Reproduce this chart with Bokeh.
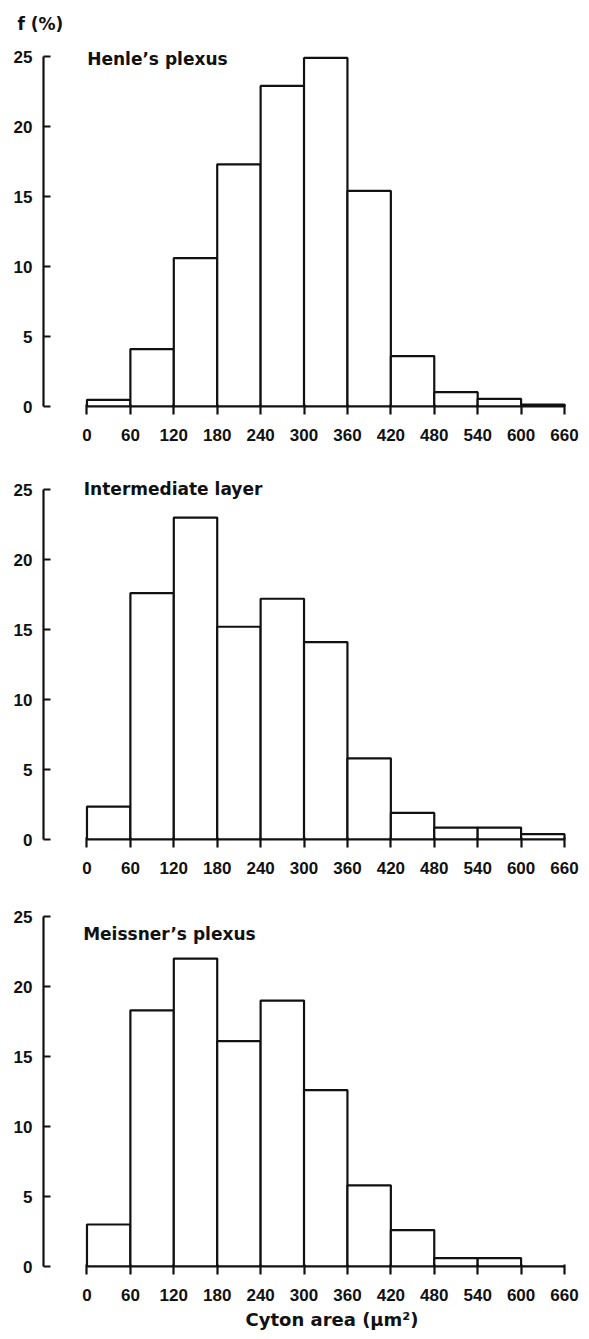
from bokeh.plotting import figure
from bokeh.models import Range1d, FixedTicker, Label, Title
from bokeh.layouts import column
from bokeh.embed import file_html
from bokeh.resources import INLINE

# ---- data ----
bin_edges = [0, 60, 120, 180, 240, 300, 360, 420, 480, 540, 600, 660]
x_ticks = [0, 60, 120, 180, 240, 300, 360, 420, 480, 540, 600, 660]
y_ticks = [0, 5, 10, 15, 20, 25]

henle = [0.48, 4.1, 10.6, 17.3, 22.9, 24.9, 15.4, 3.6, 1.02, 0.55, 0.14]
intermediate = [2.35, 17.6, 23.0, 15.2, 17.2, 14.1, 5.8, 1.9, 0.85, 0.85, 0.38]
meissner = [3.0, 18.3, 22.0, 16.1, 19.0, 12.6, 5.8, 2.6, 0.6, 0.6, 0.0]

panel_titles = ["Henle\u2019s plexus", "Intermediate layer", "Meissner\u2019s plexus"]
y_label = "f (%)"
x_label = "Cyton area (\u03bcm\u00b2)"

# ---- style / layout ----
INK = "#111111"
TICK_FONT = "Liberation Sans"
TEXT_FONT = "DejaVu Sans"
X_START, X_END = -60.1, 683.5
Y_START, Y_END = 0.0, 26.29

title_pos = [(0.3, 24.84), (-4.4, 25.05), (-5.3, 23.76)]
borders = [(38, 52), (13, 45), (14, 70)]


def make_panel(values, title, tpos, border):
    top_b, bot_b = border
    p = figure(frame_width=538, frame_height=368,
               x_range=Range1d(X_START, X_END), y_range=Range1d(Y_START, Y_END),
               output_backend="svg", toolbar_location=None,
               min_border_left=43, min_border_right=0,
               min_border_top=top_b, min_border_bottom=bot_b)
    p.outline_line_color = None
    p.grid.visible = False
    p.background_fill_color = "white"
    p.border_fill_color = "white"

    p.quad(left=bin_edges[:-1], right=bin_edges[1:], bottom=0, top=values,
           fill_color="white", line_color=INK, line_width=2.2)

    for ax in (p.xaxis[0], p.yaxis[0]):
        ax.axis_line_color = INK
        ax.axis_line_width = 2.2
        ax.major_tick_line_color = INK
        ax.major_tick_line_width = 2.2
        ax.minor_tick_line_color = None
        ax.major_label_text_font = TICK_FONT
        ax.major_label_text_font_size = "17px"
        ax.major_label_text_font_style = "bold"
        ax.major_label_text_color = INK

    xa = p.xaxis[0]
    xa.ticker = FixedTicker(ticks=x_ticks)
    xa.bounds = (0, 660)
    xa.major_tick_in = 2
    xa.major_tick_out = 8
    xa.major_label_standoff = 14

    ya = p.yaxis[0]
    ya.ticker = FixedTicker(ticks=y_ticks)
    ya.bounds = (0, 25)
    ya.major_tick_in = 7
    ya.major_tick_out = 0
    ya.major_label_standoff = 11

    p.add_layout(Label(x=tpos[0], y=tpos[1], text=title,
                       text_font=TEXT_FONT, text_font_size="17px",
                       text_font_style="bold",
                       text_color=INK, text_baseline="alphabetic", text_align="left"))
    return p


p1 = make_panel(henle, panel_titles[0], title_pos[0], borders[0])
p2 = make_panel(intermediate, panel_titles[1], title_pos[1], borders[1])
p3 = make_panel(meissner, panel_titles[2], title_pos[2], borders[2])

p1.add_layout(Title(text=y_label, align="left", offset=-26, standoff=10,
                    text_font=TEXT_FONT, text_font_size="17px",
                    text_font_style="bold", text_color=INK), "above")
p3.add_layout(Title(text=x_label, align="left", offset=202, standoff=7,
                    text_font=TEXT_FONT, text_font_size="18px",
                    text_font_style="bold", text_color=INK), "below")

layout = column(p1, p2, p3, spacing=0)
open("out.html", "w").write(file_html(layout, INLINE))
